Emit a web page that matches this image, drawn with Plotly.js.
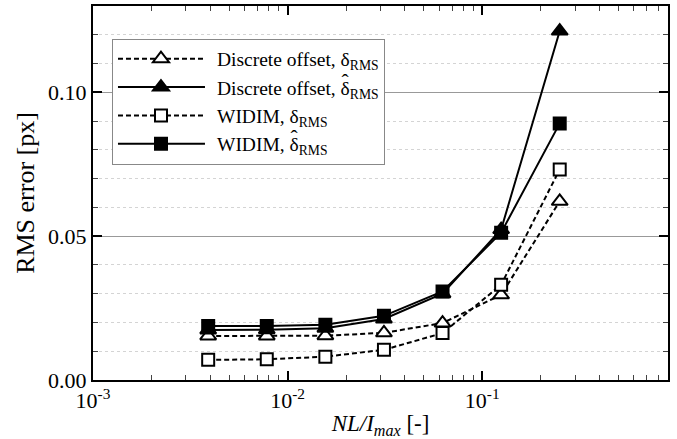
<!DOCTYPE html>
<html>
<head>
<meta charset="utf-8">
<script src="https://cdn.plot.ly/plotly-3.0.1.min.js"></script>
<style>
  html, body { margin: 0; padding: 0; background: #fff; }
  #chart { width: 677px; height: 439px; }
</style>
</head>
<body>
<div id="chart"></div>
<script>
// Normalised noise level NL/I_max
const noiseLevel = [0.00390625, 0.0078125, 0.015625, 0.03125, 0.0625, 0.125, 0.25];

// RMS errors [px]
const discreteDelta    = [0.0153, 0.0153, 0.0154, 0.0164, 0.0198, 0.0296, 0.0621];
const discreteDeltaHat = [0.0174, 0.0175, 0.0180, 0.0212, 0.0300, 0.0523, 0.1213];
const widimDelta       = [0.0070, 0.0072, 0.0081, 0.0105, 0.0163, 0.0331, 0.0732];
const widimDeltaHat    = [0.0188, 0.0188, 0.0192, 0.0223, 0.0308, 0.0512, 0.0892];

// legend names; the hatted estimator gets its circumflex drawn above the δ afterwards
const seriesNames = [
  'Discrete offset, δ<sub>RMS</sub>',
  'Discrete offset, δ<sub>RMS</sub>',
  'WIDIM, δ<sub>RMS</sub>',
  'WIDIM, δ<sub>RMS</sub>'
];
const seriesHat = [false, true, false, true];

const xMajorTicks = [0.001, 0.01, 0.1];
const xMajorLabels = ['10<sup>-3</sup>', '10<sup>-2</sup>', '10<sup>-1</sup>'];

// minor decade ticks 2..9 for each decade shown
const xMinorTicks = [];
xMajorTicks.forEach(d => { for (let k = 2; k <= 9; k++) xMinorTicks.push(k * d); });

const serif = 'Liberation Serif, Times New Roman, serif';
const ink = '#000';
const legendSize = 19.5;
const dashed = '5px,3px';

function trace(y, name, symbol, hollow, dash) {
  return {
    x: noiseLevel, y: y, name: name, type: 'scatter', mode: 'lines+markers',
    line: { color: '#000', width: 2, dash: dash },
    marker: { symbol: symbol, size: symbol === 'triangle-up' ? 14 : 12,
              color: hollow ? '#fff' : '#000',
              line: { color: '#000', width: 2 } }
  };
}

const data = [
  trace(discreteDelta,    seriesNames[0], 'triangle-up', true,  dashed),
  trace(discreteDeltaHat, seriesNames[1], 'triangle-up', false, 'solid'),
  trace(widimDelta,       seriesNames[2], 'square',      true,  dashed),
  trace(widimDeltaHat,    seriesNames[3], 'square',      false, 'solid')
];

const layout = {
  width: 677, height: 439,
  margin: { l: 93, r: 9, t: 6, b: 59 },
  paper_bgcolor: '#fff', plot_bgcolor: '#fff',
  font: { family: serif, size: 22, color: ink },
  showlegend: true,
  legend: {
    x: 0.033, y: 0.913, xanchor: 'left', yanchor: 'top',
    bgcolor: '#fff', bordercolor: '#888', borderwidth: 1,
    font: { family: serif, size: legendSize, color: ink },
    tracegroupgap: 0, itemwidth: 94
  },
  xaxis: {
    type: 'log', range: [-3, Math.log10(0.9)],
    tickmode: 'array', tickvals: xMajorTicks, ticktext: xMajorLabels,
    ticks: 'inside', ticklen: 9, tickwidth: 2, tickcolor: '#000',
    showline: true, linewidth: 2, linecolor: '#000', mirror: 'ticks',
    showgrid: false, zeroline: false,
    tickfont: { family: serif, size: 22, color: ink },
    minor: { tickmode: 'array', tickvals: xMinorTicks, ticks: 'inside', ticklen: 5,
             tickwidth: 1, tickcolor: '#444', showgrid: false },
    title: { text: '<i>NL/I<sub>max</sub></i> [-]', font: { family: serif, size: 23, color: ink }, standoff: 6 }
  },
  yaxis: {
    range: [0, 0.13], tickmode: 'linear', tick0: 0, dtick: 0.05, tickformat: '.2f',
    ticks: 'inside', ticklen: 9, tickwidth: 2, tickcolor: '#000',
    showline: true, linewidth: 2, linecolor: '#000', mirror: 'ticks',
    showgrid: true, gridcolor: '#999', gridwidth: 1, zeroline: false,
    tickfont: { family: serif, size: 22, color: ink },
    minor: { dtick: 0.01, tick0: 0, ticks: 'inside', ticklen: 5, tickwidth: 1, tickcolor: '#444',
             showgrid: true, gridcolor: '#d4d4d4', griddash: 'dot', gridwidth: 1 },
    title: { text: 'RMS error [px]', font: { family: serif, size: 26, color: ink }, standoff: 6 }
  }
};

const SVGNS = 'http://www.w3.org/2000/svg';

Plotly.newPlot('chart', data, layout, { staticPlot: true, displayModeBar: false }).then(gd => {
  gd.querySelectorAll('.legend .traces').forEach((item, idx) => {
    // stretch the legend's line samples and centre the marker on them
    item.querySelectorAll('.legendlines path').forEach(p => p.setAttribute('d', 'M5,0h87'));
    item.querySelectorAll('.legendpoints path.scatterpts').forEach(p => p.setAttribute('transform', 'translate(48,0)'));

    // put a circumflex over the δ of the hatted estimators
    if (!seriesHat[idx]) return;
    const txt = item.querySelector('text.legendtext');
    if (!txt) return;
    const i = txt.textContent.indexOf('δ');
    if (i < 0) return;
    const box = txt.getExtentOfChar(i);
    const hat = document.createElementNS(SVGNS, 'text');
    hat.setAttribute('x', box.x + box.width / 2);
    hat.setAttribute('y', box.y + 0.56 * legendSize);
    hat.setAttribute('text-anchor', 'middle');
    hat.setAttribute('transform', txt.getAttribute('transform') || '');
    hat.style.fontFamily = serif;
    hat.style.fontSize = (legendSize + 2) + 'px';
    hat.style.fill = ink;
    hat.textContent = '\u02C6';
    txt.parentNode.appendChild(hat);
  });
});
</script>
</body>
</html>
